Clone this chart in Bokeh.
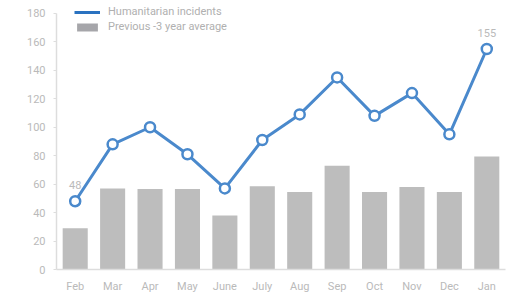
from bokeh.plotting import figure
from bokeh.models import ColumnDataSource, FactorRange, Range1d, Legend, LegendItem, FixedTicker
from bokeh.core.properties import value
from bokeh.embed import file_html
from bokeh.resources import INLINE

months = ["Feb", "Mar", "Apr", "May", "June", "July", "Aug", "Sep", "Oct", "Nov", "Dec", "Jan"]
incidents = [48, 88, 100, 81, 57, 91, 109, 135, 108, 124, 95, 155]
prev_avg = [29, 57, 56.5, 56.5, 38, 58.5, 54.5, 73, 54.5, 58, 54.5, 79.5]
y_ticks = [0, 20, 40, 60, 80, 100, 120, 140, 160, 180]
label_months = ["Feb", "Jan"]
label_values = [48, 155]

FONT = "Roboto"
GRAY_TXT = "#bababa"

src = ColumnDataSource(data=dict(m=months, inc=incidents, avg=prev_avg))
lab = ColumnDataSource(data=dict(m=label_months, v=label_values, t=[str(v) for v in label_values]))

# frame extends a little above 180 so the legend (which sits above the 180 line) is not clipped
y_top = 180 * 267 / 258
p = figure(width=513, height=295, x_range=FactorRange(*months, range_padding=0),
           y_range=Range1d(0, y_top), output_backend="svg", toolbar_location=None,
           min_border_left=56, min_border_right=8, min_border_top=4, min_border_bottom=24)
p.outline_line_color = None
p.xgrid.grid_line_color = None
p.ygrid.grid_line_color = None

bars = p.vbar(x="m", top="avg", width=0.67, source=src, fill_color="#bdbdbd", line_color=None)
line = p.line(x="m", y="inc", source=src, line_color="#4a89cc", line_width=3)
p.scatter(x="m", y="inc", source=src, size=10, marker="circle", fill_color="white",
          line_color="#4a89cc", line_width=2.5)
p.text(x="m", y="v", text="t", source=lab, text_font=value(FONT), text_font_size="11px",
       text_color=GRAY_TXT, text_align="center", text_baseline="bottom", y_offset=-12)

# legend swatches (drawn off-range, only shown in the legend)
dummy = ColumnDataSource(data=dict(m=["Feb", "Mar"], y=[-50, -50], top=[-50, -50], bot=[-60, -60]))
leg_line = p.line(x="m", y="y", source=dummy, line_color="#2a72c0", line_width=3)
leg_bar = p.vbar(x="m", top="top", bottom="bot", width=0.67, source=dummy,
                 fill_color="#a6a6aa", line_color=None)

legend = Legend(items=[LegendItem(label="Humanitarian incidents", renderers=[leg_line]),
                       LegendItem(label="Previous -3 year average", renderers=[leg_bar])],
                location=(18, 235), padding=0, margin=0, spacing=0, glyph_width=26, glyph_height=10,
                label_height=15, label_standoff=8, border_line_color=None, background_fill_alpha=0,
                label_text_font=FONT, label_text_font_size="11px", label_text_color="#b0b0b0")
p.add_layout(legend, "center")

for ax in (p.xaxis[0], p.yaxis[0]):
    ax.axis_line_color = "#dddddd"
    ax.axis_line_width = 1.5
    ax.major_label_text_font = FONT
    ax.major_label_text_font_size = "11px"
    ax.major_label_text_color = GRAY_TXT
    ax.minor_tick_line_color = None

p.xaxis.major_tick_line_color = None
p.xaxis.major_tick_out = 0
p.xaxis.major_label_standoff = 10
p.yaxis.ticker = FixedTicker(ticks=y_ticks)
p.yaxis.bounds = (0, 180)
p.yaxis.major_tick_line_color = "#dddddd"
p.yaxis.major_tick_in = 0
p.yaxis.major_tick_out = 3
p.yaxis.major_label_standoff = 8

open("out.html", "w").write(file_html(p, INLINE))
